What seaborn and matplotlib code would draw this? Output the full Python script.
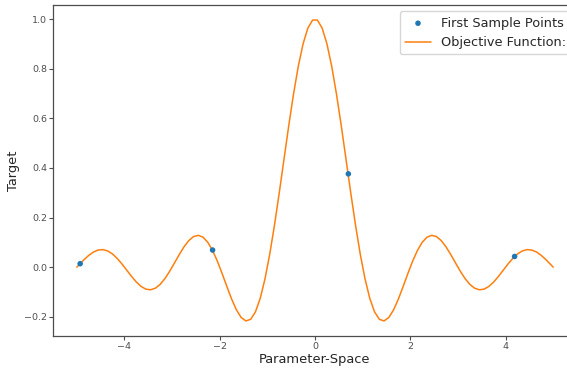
import matplotlib
matplotlib.use("Agg")
import matplotlib.pyplot as plt
import seaborn as sns
import numpy as np
import pandas as pd

### objective function (it is symmetric around 0)
X_HALF = [0.05, 0.15, 0.25, 0.35, 0.45, 0.55, 0.65, 0.75, 0.85, 0.95,
          1.05, 1.15, 1.25, 1.35, 1.45, 1.55, 1.65, 1.75, 1.85, 1.95,
          2.05, 2.15, 2.25, 2.35, 2.45, 2.55, 2.65, 2.75, 2.85, 2.95,
          3.05, 3.15, 3.25, 3.35, 3.45, 3.55, 3.65, 3.75, 3.85, 3.95,
          4.05, 4.15, 4.25, 4.35, 4.45, 4.55, 4.65, 4.75, 4.85, 4.95, 5.0]
Y_HALF = [0.9959, 0.9634, 0.9003, 0.8103, 0.6987, 0.5716, 0.4363, 0.3001, 0.1700, 0.0524,
          -0.0474, -0.1257, -0.1801, -0.2101, -0.2168, -0.2028, -0.1719, -0.1286, -0.0781, -0.0255,
          0.0243, 0.0672, 0.1000, 0.1207, 0.1283, 0.1233, 0.1070, 0.0819, 0.0507, 0.0169,
          -0.0163, -0.0459, -0.0693, -0.0847, -0.0911, -0.0886, -0.0777, -0.0600, -0.0375, -0.0126,
          0.0123, 0.0348, 0.0530, 0.0652, 0.0707, 0.0691, 0.0610, 0.0474, 0.0298, 0.0101, 0.0]

### first sample points
SAMPLE_X = [-4.93, -2.15, 0.70, 4.19]
SAMPLE_Y = [0.014, 0.069, 0.376, 0.043]

sns.set_style("ticks", {"axes.edgecolor": "0.3", "xtick.color": "0.3",
                        "ytick.color": "0.3", "text.color": "0.15",
                        "axes.labelcolor": "0.15"})

curve = pd.DataFrame({
    "x": [-v for v in X_HALF[::-1]] + X_HALF,
    "y": Y_HALF[::-1] + Y_HALF,
})
samples = pd.DataFrame({"x": SAMPLE_X, "y": SAMPLE_Y})

fig = plt.figure(figsize=(5.67, 3.70), dpi=100)
# axes runs a little past the right edge, like the cropped original
ax = fig.add_axes([53 / 567, 34 / 370, 524 / 567, 331 / 370])

sns.scatterplot(data=samples, x="x", y="y", color="tab:blue", s=16,
                edgecolor="none", ax=ax, label="First Sample Points", zorder=3)
sns.lineplot(data=curve, x="x", y="y", color="tab:orange", linewidth=1.1,
             ax=ax, label="Objective Function:", sort=False)

ax.set_xlabel("Parameter-Space", fontsize=9.4, labelpad=2.0)
ax.set_ylabel("Target", fontsize=9.4, labelpad=3.0)
ax.tick_params(labelsize=6.8, length=2.9, pad=1.2, width=0.8)
ax.set_xticks([-4, -2, 0, 2, 4])
ax.set_yticks([-0.2, 0.0, 0.2, 0.4, 0.6, 0.8, 1.0])
ax.margins(x=0.05, y=0.05)
for sp in ax.spines.values():
    sp.set_linewidth(0.9)
ax.legend(loc="upper right", bbox_to_anchor=(1 + 1 / 524, 1.0),
          fontsize=9.3, frameon=True)

fig.savefig("out.png", dpi=100)
